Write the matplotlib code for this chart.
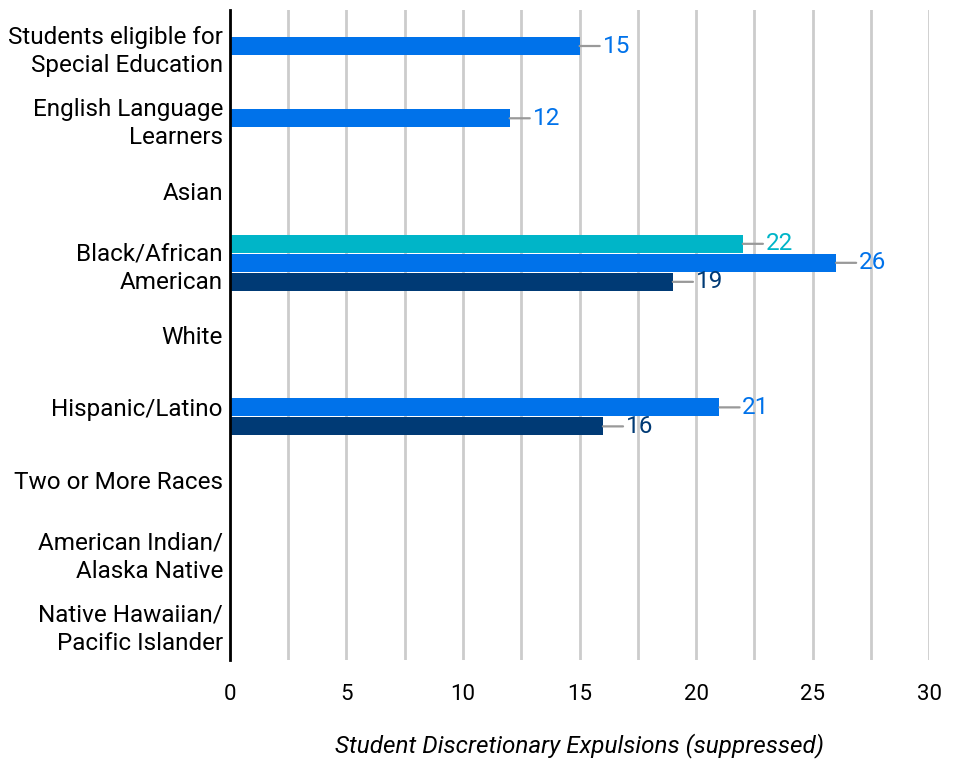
import numpy as np
import matplotlib.pyplot as plt

plt.rcParams['font.family'] = ['Roboto', 'DejaVu Sans']

categories = ['Students eligible for\nSpecial Education', 'English Language\nLearners', 'Asian',
              'Black/African\nAmerican', 'White', 'Hispanic/Latino', 'Two or More Races',
              'American Indian/\nAlaska Native', 'Native Hawaiian/\nPacific Islander']
series_a = [None, None, None, 22, None, None, None, None, None]
series_b = [15, 12, None, 26, None, 21, None, None, None]
series_c = [None, None, None, 19, None, 16, None, None, None]
ticks = [0, 5, 10, 15, 20, 25, 30]

colors = ['#00b5c8', '#0072ea', '#003a75']
offsets = [-0.263, 0.0, 0.263]

fig = plt.figure(figsize=(9.58, 7.59), dpi=100)
ax = fig.add_axes([0.240, 0.130, 0.730, 0.857])

y = np.arange(len(categories))
for vals, col, off in zip([series_a, series_b, series_c], colors, offsets):
    for i, v in enumerate(vals):
        if v is None:
            continue
        ax.barh(y[i] + off, v, height=0.25, color=col, zorder=3)
        ax.annotate(str(v), xy=(v, y[i] + off), xytext=(16.5, 0), textcoords='offset points',
                    ha='left', va='center', fontsize=17.5, color=col,
                    arrowprops=dict(arrowstyle='-', color='#999999', lw=1.6, shrinkA=0, shrinkB=0),
                    zorder=4)

ax.set_xlim(0, 30)
ax.set_ylim(len(categories) - 0.5, -0.5)
ax.set_xticks(ticks)
ax.set_xticks(np.arange(0, 30.1, 2.5), minor=True)
ax.set_xticklabels([str(t) for t in ticks], fontsize=16)
ax.set_yticks(y)
ax.set_yticklabels(categories, fontsize=17.5, linespacing=1.3)
ax.tick_params(axis='both', which='both', length=0)
ax.tick_params(axis='x', pad=17)
ax.tick_params(axis='y', pad=5)
ax.grid(axis='x', which='both', color='#cccccc', lw=2, zorder=0)
for s in ['top', 'right', 'bottom']:
    ax.spines[s].set_visible(False)
ax.spines['left'].set_linewidth(2)
ax.spines['left'].set_zorder(5)
fig.text(0.605, 0.018, 'Student Discretionary Expulsions (suppressed)', fontsize=17.5, style='italic',
         ha='center', va='center')

plt.savefig('out.png', dpi=100)
